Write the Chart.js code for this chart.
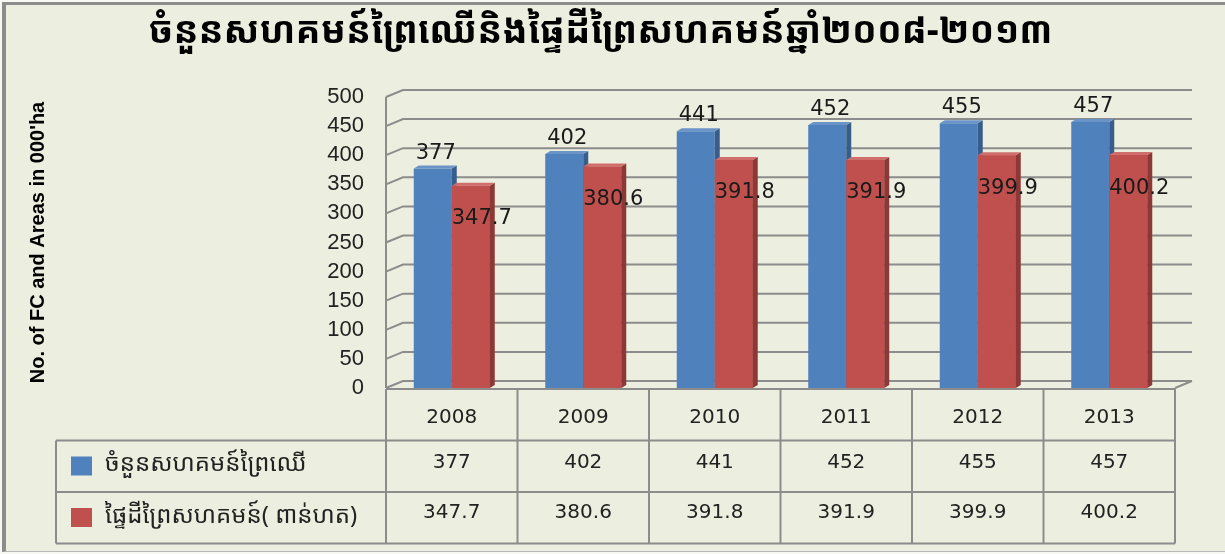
<!DOCTYPE html>
<html>
<head>
<meta charset="utf-8">
<script src="https://cdn.jsdelivr.net/npm/chart.js@4.4.0/dist/chart.umd.min.js"></script>
<style>
  html, body { margin: 0; padding: 0; background: #f7f8f2; }
  #frame {
    position: absolute; left: 2px; top: 2px; width: 1223px; height: 550px;
    background: #ecefdf;
    border-left: 4px solid #8c8c8c; border-top: 3px solid #8c8c8c;
    border-bottom: 1px solid #b8b8b8;
    box-sizing: border-box;
  }
  #wrap { position: absolute; left: 0; top: 0; width: 1225px; height: 554px; }
</style>
</head>
<body>
<div id="frame"></div>
<div id="wrap"><canvas id="fcChart"></canvas></div>
<script>
// values
const years = ['2008', '2009', '2010', '2011', '2012', '2013'];
const fcCount = [377, 402, 441, 452, 455, 457];
const fcArea = [347.7, 380.6, 391.8, 391.9, 399.9, 400.2];
const seriesNames = ['ចំនួនសហគមន៍ព្រៃឈើ', 'ផ្ទៃដីព្រៃសហគមន៍( ពាន់ហត)'];
const chartTitle = 'ចំនួនសហគមន៍ព្រៃឈើនិងផ្ទៃដីព្រៃសហគមន៍ឆ្នាំ២០០៨-២០១៣';
const yTitle = "No. of FC and Areas in 000'ha";

const khmerFont = "'Noto Sans Khmer', 'Khmer OS', 'Khmer OS System', 'DejaVu Sans', sans-serif";
const gridColor = '#8c8c8c';

// 3D look: back wall offset and bar depth
const wall = { dx: 17, dy: 7 };
const barDepth = { dx: 5, dy: 3 };

function drawFaces(ctx, ds, bars) {
    bars.forEach(bar => {
        const l = bar.x - bar.width / 2;
        const r = bar.x + bar.width / 2;
        // side
        ctx.fillStyle = ds.sideColor;
        ctx.beginPath();
        ctx.moveTo(r, bar.y);
        ctx.lineTo(r + barDepth.dx, bar.y - barDepth.dy);
        ctx.lineTo(r + barDepth.dx, bar.base - barDepth.dy);
        ctx.lineTo(r, bar.base);
        ctx.closePath();
        ctx.fill();
        // top
        ctx.fillStyle = ds.topColor;
        ctx.beginPath();
        ctx.moveTo(l, bar.y);
        ctx.lineTo(l + barDepth.dx, bar.y - barDepth.dy);
        ctx.lineTo(r + barDepth.dx, bar.y - barDepth.dy);
        ctx.lineTo(r, bar.y);
        ctx.closePath();
        ctx.fill();
    });
}

const threeD = {
    id: 'threeD',
    beforeDatasetsDraw(chart) {
        const { ctx, chartArea } = chart;
        const y = chart.scales.y;
        ctx.save();
        ctx.strokeStyle = gridColor;
        ctx.lineWidth = 2;
        ctx.beginPath();
        y.ticks.forEach(t => {
            const py = y.getPixelForValue(t.value);
            ctx.moveTo(chartArea.left, py);
            ctx.lineTo(chartArea.left + wall.dx, py - wall.dy);
            ctx.lineTo(chartArea.right + wall.dx, py - wall.dy);
        });
        ctx.moveTo(chartArea.left, chartArea.bottom);
        ctx.lineTo(chartArea.left, y.getPixelForValue(y.max));
        ctx.moveTo(chartArea.right, chartArea.bottom);
        ctx.lineTo(chartArea.right + wall.dx, chartArea.bottom - wall.dy);
        ctx.stroke();
        ctx.restore();
    },
    afterDatasetsDraw(chart) {
        const { ctx, chartArea } = chart;
        const blue = chart.getDatasetMeta(0);
        const red = chart.getDatasetMeta(1);
        ctx.save();
        // blue depth, then red fronts again on top of it, then red depth
        drawFaces(ctx, chart.data.datasets[0], blue.data);
        red.data.forEach(el => el.draw(ctx, chartArea));
        drawFaces(ctx, chart.data.datasets[1], red.data);

        ctx.font = '21px "DejaVu Sans"';
        ctx.fillStyle = '#1a1a1a';
        // blue labels above the bars
        blue.data.forEach((bar, i) => {
            ctx.textAlign = 'center';
            ctx.textBaseline = 'bottom';
            ctx.fillText(String(fcCount[i]), bar.x + 3, bar.y - 5);
        });
        // red labels inside, near the top
        red.data.forEach((bar, i) => {
            ctx.textAlign = 'left';
            ctx.textBaseline = 'middle';
            ctx.fillText(fcArea[i].toFixed(1), bar.x - bar.width / 2, bar.y + 33);
        });
        ctx.restore();
    },
    afterDraw(chart) {
        // data table under the plot
        const { ctx, chartArea } = chart;
        const x = chart.scales.x;
        const colW = x.getPixelForValue(1) - x.getPixelForValue(0);
        const rowH = 51.5;
        const top = chartArea.bottom + 1;
        const legendLeft = 56;
        const r1 = top + rowH, r2 = top + 2 * rowH, r3 = top + 3 * rowH;
        ctx.save();
        ctx.strokeStyle = gridColor;
        ctx.lineWidth = 2;
        ctx.beginPath();
        ctx.moveTo(chartArea.left, top); ctx.lineTo(chartArea.right, top);
        [r1, r2, r3].forEach(yy => { ctx.moveTo(legendLeft, yy); ctx.lineTo(chartArea.right, yy); });
        ctx.moveTo(legendLeft, r1); ctx.lineTo(legendLeft, r3);
        for (let i = 0; i <= years.length; i++) {
            const xx = chartArea.left + i * colW;
            ctx.moveTo(xx, top); ctx.lineTo(xx, r3);
        }
        ctx.stroke();

        ctx.fillStyle = '#222';
        ctx.font = '20px "DejaVu Sans"';
        ctx.textAlign = 'center';
        ctx.textBaseline = 'middle';
        years.forEach((yr, i) => {
            const cx = x.getPixelForValue(i);
            ctx.fillText(yr, cx, top + rowH / 2 + 3);
            ctx.fillText(String(fcCount[i]), cx, r1 + rowH / 2 - 3);
            ctx.fillText(fcArea[i].toFixed(1), cx, r2 + rowH / 2 - 5);
        });

        // legend keys
        const keys = [chart.data.datasets[0].backgroundColor, chart.data.datasets[1].backgroundColor];
        ctx.textAlign = 'left';
        ctx.font = '24px ' + khmerFont;
        keys.forEach((c, k) => {
            const rowTop = r1 + k * rowH;
            ctx.fillStyle = c;
            ctx.fillRect(71, rowTop + 16, 21, 19);
            ctx.fillStyle = '#222';
            ctx.fillText(seriesNames[k], 105, rowTop + rowH / 2 - 2);
        });
        ctx.restore();
    }
};

new Chart(document.getElementById('fcChart'), {
    type: 'bar',
    data: {
        labels: years,
        datasets: [
            {
                label: seriesNames[0],
                data: fcCount,
                backgroundColor: '#4f81bd',
                sideColor: '#385d8a',
                topColor: '#6a94c8'
            },
            {
                label: seriesNames[1],
                data: fcArea,
                backgroundColor: '#c0504d',
                sideColor: '#8c3836',
                topColor: '#cf6e6b'
            }
        ]
    },
    options: {
        responsive: true,
        maintainAspectRatio: false,
        animation: false,
        datasets: { bar: { categoryPercentage: 0.578, barPercentage: 1 } },
        layout: { padding: { left: 26, right: 50, top: 0, bottom: 166 } },
        plugins: {
            legend: { display: false },
            tooltip: { enabled: false },
            title: {
                display: true,
                text: chartTitle,
                color: '#000',
                font: { family: khmerFont, size: 37, weight: 'bold', lineHeight: 1.2 },
                padding: { top: 10, bottom: 42.6 }
            }
        },
        scales: {
            x: { display: false },
            y: {
                min: 0,
                max: 500,
                afterFit(scale) { scale.width = 360; },
                grid: { display: false, drawTicks: false },
                border: { display: false },
                ticks: {
                    stepSize: 50,
                    autoSkip: false,
                    padding: 22,
                    color: '#222',
                    font: { family: '"Liberation Sans", Arial', size: 22 }
                },
                title: {
                    display: true,
                    text: yTitle,
                    color: '#000',
                    padding: 0,
                    font: { family: '"Liberation Sans", Arial', size: 20, weight: 'bold' }
                }
            }
        }
    },
    plugins: [threeD]
});
</script>
</body>
</html>
